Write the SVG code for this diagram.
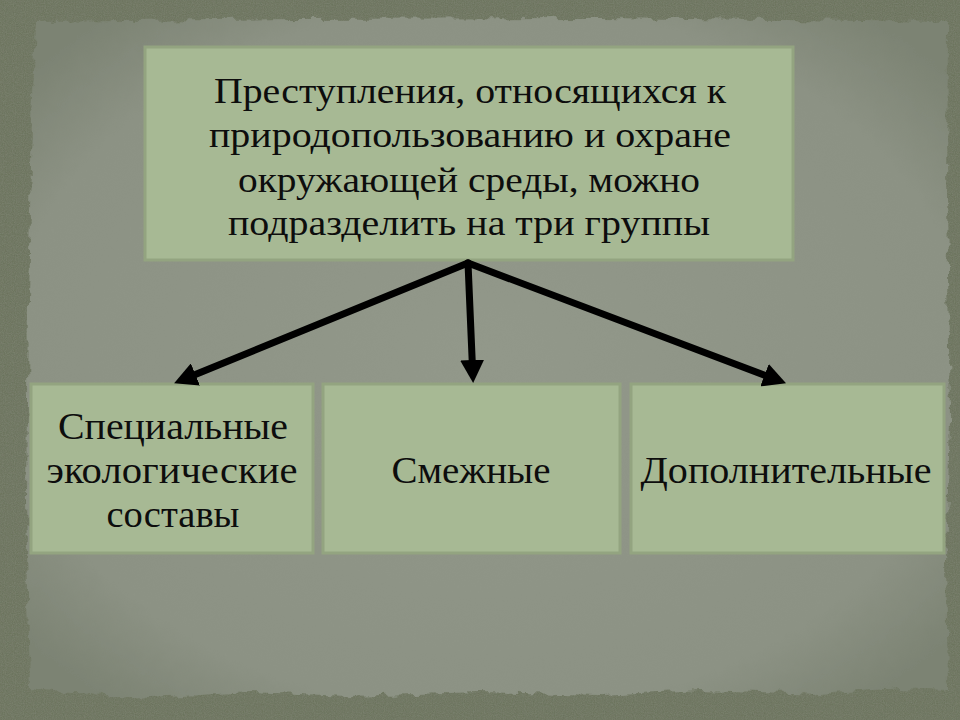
<svg xmlns="http://www.w3.org/2000/svg" width="960" height="720" viewBox="0 0 960 720">
  <defs>
    <style>
      .box { fill: #a7b994; stroke: #93a480; stroke-width: 3; }
      .t { font-family: "Liberation Serif", "DejaVu Serif", serif; fill: #0d0d0d; text-anchor: middle; }
      .top { font-size: 35px; }
      .bot { font-size: 38px; }
      .conn { stroke: #000000; stroke-width: 7; fill: none; stroke-linecap: round; }
    </style>
    <marker id="ah" markerUnits="userSpaceOnUse" markerWidth="26" markerHeight="24" refX="8" refY="12" orient="auto" viewBox="0 0 26 24">
      <path d="M0,0 L23,12 L0,24 z" fill="#000000"/>
    </marker>
    <filter id="rough" x="-5%" y="-5%" width="110%" height="110%">
      <feTurbulence type="fractalNoise" baseFrequency="0.08" numOctaves="3" seed="4" result="n"/>
      <feDisplacementMap in="SourceGraphic" in2="n" scale="10" xChannelSelector="R" yChannelSelector="G"/>
    </filter>
    <filter id="grain" x="0" y="0" width="100%" height="100%">
      <feTurbulence type="fractalNoise" baseFrequency="0.9" numOctaves="2" seed="2" result="n"/>
      <feColorMatrix in="n" type="matrix" values="0 0 0 0 0.5  0 0 0 0 0.52  0 0 0 0 0.46  0 0 0 0.18 0" result="g"/>
      <feComposite in="g" in2="SourceGraphic" operator="in" result="gi"/>
      <feMerge><feMergeNode in="SourceGraphic"/><feMergeNode in="gi"/></feMerge>
    </filter>
    <radialGradient id="paperGrad" cx="50%" cy="50%" r="65%">
      <stop offset="0%" stop-color="#92988a"/>
      <stop offset="80%" stop-color="#8c9284"/>
      <stop offset="100%" stop-color="#7c8373"/>
    </radialGradient>
  </defs>

  <rect x="0" y="0" width="960" height="720" fill="#676f59" filter="url(#grain)"/>

  <g id="paper">
    <path d="M36,22 L300,19 L600,18 L948,22 L947,200 L950,420 L946,560 L948,690 L900,688 L820,694 L700,690 L600,695 L480,692 L350,696 L250,692 L150,698 L60,692 L30,688 L26,500 L28,300 L32,120 Z" fill="url(#paperGrad)" filter="url(#rough)"/>
  </g>

  <g id="n-top">
    <rect class="box" x="145" y="47" width="648" height="213"/>
    <text class="t top" x="470" y="103" textLength="512" lengthAdjust="spacingAndGlyphs">Преступления, относящихся к</text>
    <text class="t top" x="470" y="147" textLength="522" lengthAdjust="spacingAndGlyphs">природопользованию и охране</text>
    <text class="t top" x="469" y="192" textLength="462" lengthAdjust="spacingAndGlyphs">окружающей среды, можно</text>
    <text class="t top" x="469" y="235" textLength="482" lengthAdjust="spacingAndGlyphs">подразделить на три группы</text>
  </g>

  <g id="n-special">
    <rect class="box" x="31" y="384" width="282" height="169"/>
    <text class="t bot" x="173" y="439" textLength="230" lengthAdjust="spacingAndGlyphs">Специальные</text>
    <text class="t bot" x="172" y="483" textLength="251" lengthAdjust="spacingAndGlyphs">экологические</text>
    <text class="t bot" x="173" y="527" textLength="133" lengthAdjust="spacingAndGlyphs">составы</text>
  </g>

  <g id="n-adjacent">
    <rect class="box" x="323" y="384" width="297" height="169"/>
    <text class="t bot" x="471" y="483" textLength="159" lengthAdjust="spacingAndGlyphs">Смежные</text>
  </g>

  <g id="n-additional">
    <rect class="box" x="631" y="384" width="313" height="169"/>
    <text class="t bot" x="786" y="483" textLength="291" lengthAdjust="spacingAndGlyphs">Дополнительные</text>
  </g>

  <g id="connectors">
    <line class="conn" x1="468" y1="263" x2="188" y2="377.5" marker-end="url(#ah)"/>
    <line class="conn" x1="468" y1="263" x2="472.5" y2="368" marker-end="url(#ah)"/>
    <line class="conn" x1="468" y1="263" x2="772" y2="378" marker-end="url(#ah)"/>
  </g>
</svg>
